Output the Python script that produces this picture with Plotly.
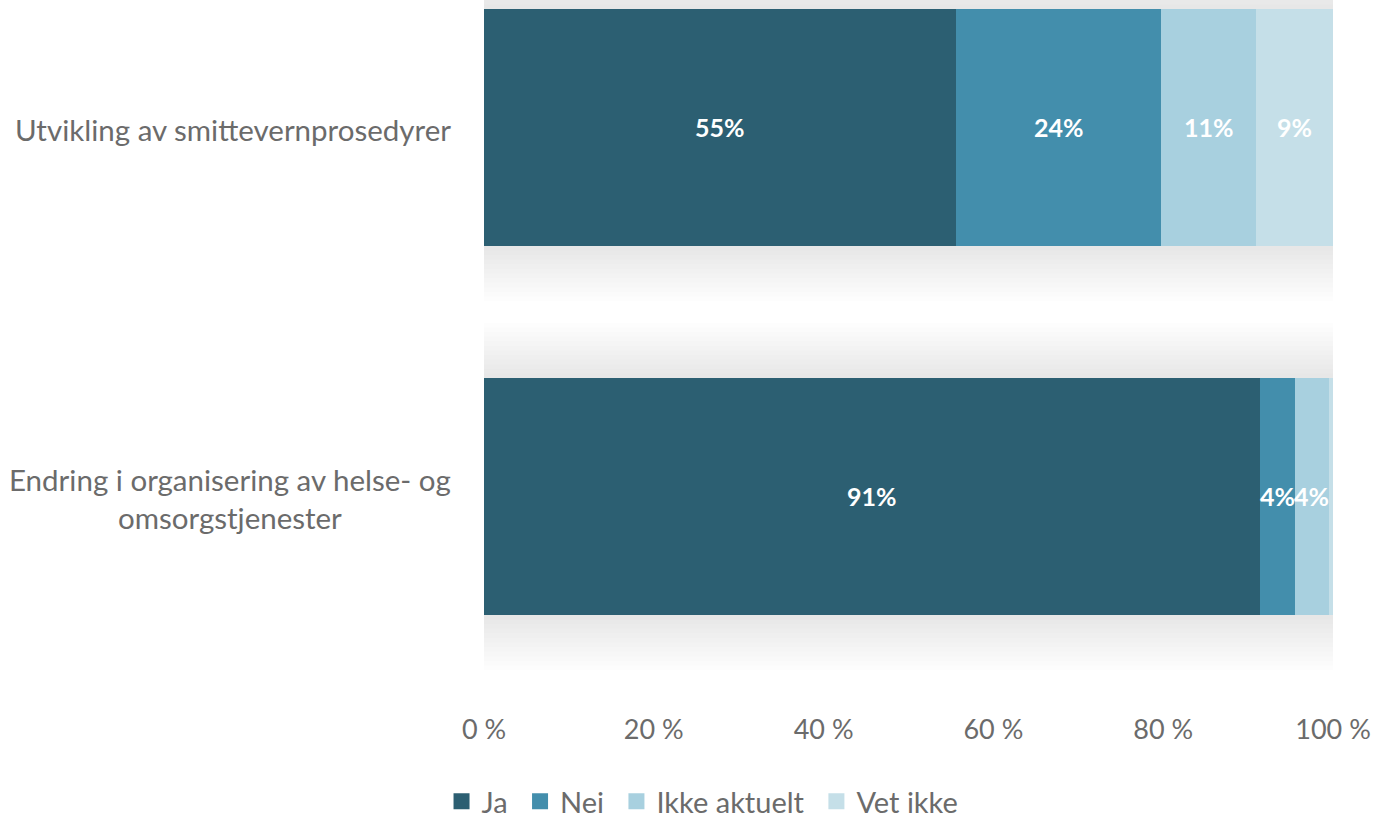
import plotly.graph_objects as go

# Survey answers, share of respondents (percent)
categories = [
    "Utvikling av smittevernprosedyrer",
    "Endring i organisering av helse- og<br>omsorgstjenester",
]
series_names = ["Ja", "Nei", "Ikke aktuelt", "Vet ikke"]
ja = [55, 91]
nei = [24, 4]
ikke_aktuelt = [11, 4]
vet_ikke = [9, 0.5]
series_values = [ja, nei, ikke_aktuelt, vet_ikke]
colors = ["#2C5F72", "#438EAC", "#A8D0DF", "#C5DFE8"]
x_ticks = [0, 20, 40, 60, 80, 100]
x_tick_labels = ["0 %", "20 %", "40 %", "60 %", "80 %", "100 %"]

FONT = "Lato, 'Open Sans', sans-serif"
GREY = "#6b6b6b"
BAR_WIDTH = 0.642
ypos = list(range(len(categories)))

fig = go.Figure()
for idx, (name, vals, col) in enumerate(zip(series_names, series_values, colors)):
    fig.add_trace(go.Bar(
        name=name,
        y=ypos,
        x=vals,
        orientation="h",
        marker=dict(color=col, line=dict(width=0)),
        width=BAR_WIDTH,
        showlegend=False,
        hovertemplate="%{x:.0f}%<extra>" + name + "</extra>",
    ))
    # legend entry with a larger square swatch (a little extra room after each label)
    pad = "\u00a0" if idx < len(series_names) - 1 else ""
    fig.add_trace(go.Scatter(
        name=name + pad, x=[None], y=[None], mode="markers",
        marker=dict(symbol="square", size=17, color=col),
        showlegend=True,
    ))

# value labels centred in each segment (positions follow the 100 % stacking)
annotations = []
for i in ypos:
    total = sum(s[i] for s in series_values)
    left = 0.0
    for vals in series_values:
        share = vals[i] / total * 100
        if vals[i] >= 1:
            annotations.append(dict(
                xref="x", yref="y", x=left + share / 2, y=i,
                xanchor="center", yanchor="middle",
                text=f"{vals[i]:.0f}%", showarrow=False,
                font=dict(family=FONT, size=25, color="white", weight="bold"),
            ))
        left += share

# soft drop shadow above/below each bar built from faint stacked bands
shapes = []
half = BAR_WIDTH / 2
n_layers = 12
step = 0.0125
for i in ypos:
    for k in range(1, n_layers + 1):
        d = step * k
        for y0, y1 in [(i + half, i + half + d), (i - half - d, i - half)]:
            shapes.append(dict(
                type="rect", xref="x", yref="y",
                x0=0, x1=100, y0=y0, y1=y1,
                fillcolor="rgba(0,0,0,0.008)", line=dict(width=0),
                layer="below",
            ))

# centred category labels to the left of the bars
for i, cat in zip(ypos, categories):
    annotations.append(dict(
        xref="paper", yref="y", x=-0.036, y=i + 0.005,
        xanchor="right", yanchor="middle", align="center",
        text=cat, showarrow=False,
        font=dict(family=FONT, size=29.5, color=GREY),
    ))

fig.update_layout(
    barmode="stack",
    barnorm="percent",
    width=1375, height=822,
    margin=dict(l=484, r=42, t=0, b=130),
    paper_bgcolor="white", plot_bgcolor="white",
    shapes=shapes,
    annotations=annotations,
    xaxis=dict(
        range=[0, 100], tickvals=x_ticks, ticktext=x_tick_labels,
        showgrid=False, zeroline=False, showline=False,
        ticks="outside", ticklen=14, tickcolor="white",
        tickfont=dict(family=FONT, size=27, color=GREY),
    ),
    yaxis=dict(
        range=[1.53, -0.3455], showticklabels=False,
        showgrid=False, zeroline=False, showline=False,
    ),
    legend=dict(
        orientation="h", xref="paper", yref="container",
        x=0.2574, y=0.025, xanchor="center", yanchor="middle",
        font=dict(family=FONT, size=29, color=GREY),
        traceorder="normal", itemwidth=30,
    ),
    showlegend=True,
)

fig.write_html("out.html")
